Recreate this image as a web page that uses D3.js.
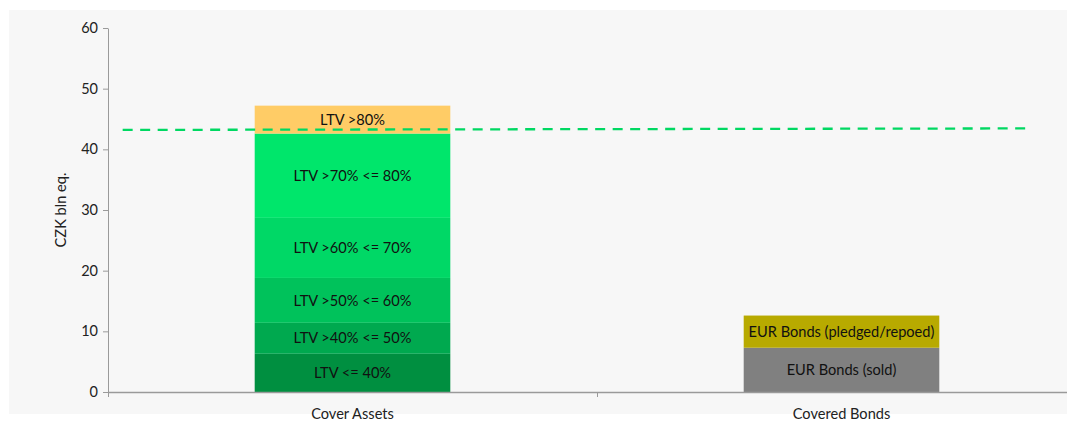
<!DOCTYPE html>
<html><head><meta charset="utf-8">
<script src="https://cdn.jsdelivr.net/npm/d3@7"></script>
<style>
html,body{margin:0;padding:0;background:#fff;}
svg{display:block;font-family:Lato, "Open Sans", sans-serif;}
</style></head>
<body>
<svg id="c" width="1067" height="424"></svg>
<script>
const categories = ["Cover Assets", "Covered Bonds"];
const coverSegments = ["LTV <= 40%", "LTV >40% <= 50%", "LTV >50% <= 60%", "LTV >60% <= 70%", "LTV >70% <= 80%", "LTV >80%"];
const coverValues = [6.3, 5.1, 7.4, 9.9, 13.9, 4.6];
const coverColors = ["#008f40", "#00a94f", "#00c25b", "#00d866", "#00e66b", "#ffcc66"];
const bondSegments = ["EUR Bonds (sold)", "EUR Bonds (pledged/repoed)"];
const bondValues = [7.3, 5.3];
const bondColors = ["#808080", "#b8aa00"];
const thresholdPos = [-0.47, 1.39];
const thresholdValues = [43.2, 43.45];
const yTicks = [0, 10, 20, 30, 40, 50, 60];
const yLabel = "CZK bln eq.";

const svg = d3.select("#c");
svg.append("rect").attr("x", 9).attr("y", 10).attr("width", 1058).attr("height", 404).attr("fill", "#f7f7f7");

const mLeft = 108, mRight = 1086, mTop = 28, mBottom = 392;
const x = d3.scaleBand().domain(categories).range([mLeft, mRight]).paddingInner(0.6).paddingOuter(0.3);
const y = d3.scaleLinear().domain([0, 60]).range([mBottom, mTop]);
const xl = d3.scaleLinear().domain([-0.5, 1.5]).range([mLeft, mRight]);

const stacks = [
  {cat: categories[0], names: coverSegments, vals: coverValues, cols: coverColors},
  {cat: categories[1], names: bondSegments, vals: bondValues, cols: bondColors}
];
stacks.forEach(s => {
  let acc = 0;
  s.vals.forEach((v, i) => {
    const y0 = acc, y1 = acc + v; acc = y1;
    svg.append("rect").attr("x", x(s.cat)).attr("width", x.bandwidth())
      .attr("y", y(y1)).attr("height", y(y0) - y(y1)).attr("fill", s.cols[i]);
    svg.append("text").attr("x", x(s.cat) + x.bandwidth() / 2).attr("y", y((y0 + y1) / 2))
      .attr("dy", "0.35em").attr("text-anchor", "middle").attr("font-size", 14.6).attr("fill", "#111")
      .text(s.names[i]);
  });
});

// threshold dashed line
svg.append("path")
  .attr("d", d3.line().x((d, i) => xl(thresholdPos[i])).y(d => y(d))(thresholdValues))
  .attr("fill", "none").attr("stroke", "#00d862").attr("stroke-width", 2.3).attr("stroke-dasharray", "10,7.5");

// y axis
const ya = svg.append("g").attr("transform", `translate(${mLeft},0)`)
  .call(d3.axisLeft(y).tickValues(yTicks).tickSize(5).tickSizeOuter(0));
ya.select(".domain").attr("stroke", "#9a9a9a");
ya.selectAll(".tick line").attr("stroke", "#9a9a9a");
ya.selectAll(".tick text").attr("font-size", 14.5).attr("fill", "#222").attr("font-family", "Lato").attr("x", -10);

// x axis
const xa = svg.append("g").attr("transform", `translate(0,${mBottom})`)
  .call(d3.axisBottom(xl).tickValues([-0.5, 0.5]).tickSize(5).tickSizeOuter(0).tickFormat(""));
xa.select(".domain").attr("stroke", "#9a9a9a").attr("stroke-width", 1.5);
xa.selectAll(".tick line").attr("stroke", "#9a9a9a");
categories.forEach(c => {
  svg.append("text").attr("x", x(c) + x.bandwidth() / 2).attr("y", 419).attr("text-anchor", "middle")
    .attr("font-size", 14.6).attr("fill", "#222").text(c);
});

svg.append("text").attr("transform", "translate(66,210) rotate(-90)").attr("text-anchor", "middle")
  .attr("font-size", 14.6).attr("fill", "#222").text(yLabel);
</script>
</body></html>
